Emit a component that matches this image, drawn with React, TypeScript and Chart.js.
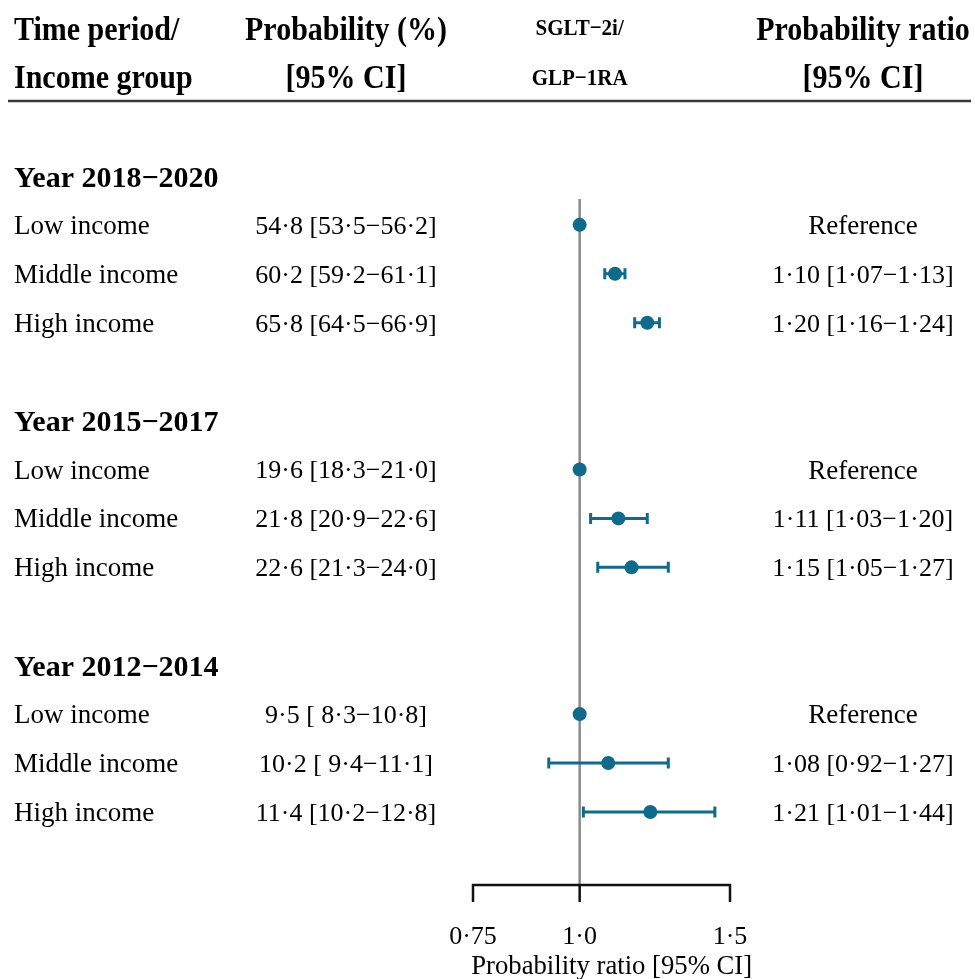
import React, { useEffect, useRef } from 'react';
import { Chart, registerables } from 'chart.js';

Chart.register(...registerables);

const headerCol1 = ['Time period/', 'Income group'];
const headerCol2 = ['Probability (%)', '[95% CI]'];
const headerCol3 = ['SGLT−2i/', 'GLP−1RA'];
const headerCol4 = ['Probability ratio', '[95% CI]'];

const periods = ['Year 2018−2020', 'Year 2015−2017', 'Year 2012−2014'];
const incomeGroups = ['Low income', 'Middle income', 'High income'];

const probEst = [54.8, 60.2, 65.8, 19.6, 21.8, 22.6, 9.5, 10.2, 11.4];
const probLow = [53.5, 59.2, 64.5, 18.3, 20.9, 21.3, 8.3, 9.4, 10.2];
const probHigh = [56.2, 61.1, 66.9, 21.0, 22.6, 24.0, 10.8, 11.1, 12.8];

const ratioEst = [1, 1.10, 1.20, 1, 1.11, 1.15, 1, 1.08, 1.21];
const ratioLow = [null, 1.07, 1.16, null, 1.03, 1.05, null, 0.92, 1.01];
const ratioHigh = [null, 1.13, 1.24, null, 1.20, 1.27, null, 1.27, 1.44];

const tickValues = [0.75, 1.0, 1.5];
const tickLabels = ['0·75', '1·0', '1·5'];
const axisTitle = 'Probability ratio [95% CI]';

const COLOR = '#0f6a8b';
const SERIF = '"Liberation Serif", "Times New Roman", serif';

const fmt = (v: number, d: number) => v.toFixed(d).replace('.', '·');
const padL = (s: string, n: number) => (s.length < n ? ' '.repeat(n - s.length) + s : s);

const rowIndex = (i: number) => Math.floor(i / 3) * 5 + 1 + (i % 3);
const groupIndex = (g: number) => g * 5;

const probText = probEst.map(
  (e, i) => `${fmt(e, 1)} [${padL(fmt(probLow[i], 1), 4)}−${fmt(probHigh[i], 1)}]`
);
const ratioText = ratioEst.map((e, i) =>
  ratioLow[i] == null ? 'Reference' : `${fmt(e, 2)} [${fmt(ratioLow[i] as number, 2)}−${fmt(ratioHigh[i] as number, 2)}]`
);

const stretched = (ctx: any, t: string, x: number, y: number, sy: number) => {
  ctx.save();
  ctx.translate(x, y);
  ctx.scale(1, sy);
  ctx.fillText(t, 0, 0);
  ctx.restore();
};

const forestPlugin = {
  id: 'forest',
  beforeDatasetsDraw(chart: any) {
    const ctx = chart.ctx;
    const xs = chart.scales.x;
    const ys = chart.scales.y;
    const area = chart.chartArea;
    ctx.save();
    const x1 = xs.getPixelForValue(1);
    ctx.strokeStyle = '#8a8a8a';
    ctx.lineWidth = 2.5;
    ctx.beginPath();
    ctx.moveTo(x1, ys.getPixelForValue(0.47));
    ctx.lineTo(x1, area.bottom);
    ctx.stroke();
    ctx.strokeStyle = COLOR;
    ctx.lineWidth = 3;
    ratioEst.forEach((e, i) => {
      const lo = ratioLow[i];
      const hi = ratioHigh[i];
      if (lo == null || hi == null) return;
      const y = ys.getPixelForValue(rowIndex(i));
      const xl = xs.getPixelForValue(lo);
      const xh = xs.getPixelForValue(hi);
      ctx.beginPath();
      ctx.moveTo(xl, y);
      ctx.lineTo(xh, y);
      ctx.moveTo(xl, y - 5.5);
      ctx.lineTo(xl, y + 5.5);
      ctx.moveTo(xh, y - 5.5);
      ctx.lineTo(xh, y + 5.5);
      ctx.stroke();
    });
    ctx.strokeStyle = '#111';
    ctx.lineWidth = 2.5;
    const xa = xs.getPixelForValue(tickValues[0]);
    const xb = xs.getPixelForValue(tickValues[tickValues.length - 1]);
    ctx.beginPath();
    ctx.moveTo(xa, area.bottom);
    ctx.lineTo(xb, area.bottom);
    tickValues.forEach((t) => {
      const x = xs.getPixelForValue(t);
      ctx.moveTo(x, area.bottom - 1.2);
      ctx.lineTo(x, area.bottom + 17);
    });
    ctx.stroke();
    ctx.restore();
  },
  afterDraw(chart: any) {
    const ctx = chart.ctx;
    const xs = chart.scales.x;
    const ys = chart.scales.y;
    const area = chart.chartArea;
    const W = chart.width;
    ctx.save();
    ctx.fillStyle = '#000';

    ctx.textBaseline = 'alphabetic';
    const hb = [40, 88];
    ctx.font = `bold 30px ${SERIF}`;
    ctx.textAlign = 'left';
    headerCol1.forEach((t, k) => stretched(ctx, t, 14, hb[k], 1.12));
    ctx.textAlign = 'center';
    headerCol2.forEach((t, k) => stretched(ctx, t, 346, hb[k], 1.12));
    headerCol4.forEach((t, k) => stretched(ctx, t, 863, hb[k], 1.12));
    ctx.font = `bold 21px ${SERIF}`;
    const sb = [35, 85];
    headerCol3.forEach((t, k) => stretched(ctx, t, xs.getPixelForValue(1), sb[k], 1.12));

    ctx.strokeStyle = '#3a3a3a';
    ctx.lineWidth = 2.5;
    ctx.beginPath();
    ctx.moveTo(8, 101);
    ctx.lineTo(W - 4, 101);
    ctx.stroke();

    ctx.textBaseline = 'middle';
    ctx.font = `bold 30px ${SERIF}`;
    ctx.textAlign = 'left';
    periods.forEach((p, g) => ctx.fillText(p, 14, ys.getPixelForValue(groupIndex(g)) + 3));

    probEst.forEach((_, i) => {
      const y = ys.getPixelForValue(rowIndex(i)) + 2;
      ctx.font = `27px ${SERIF}`;
      ctx.textAlign = 'left';
      ctx.fillText(incomeGroups[i % 3], 14, y);
      ctx.textAlign = 'center';
      ctx.font = `26px ${SERIF}`;
      ctx.fillText(probText[i], 346, y);
      if (ratioLow[i] == null) ctx.font = `27px ${SERIF}`;
      ctx.fillText(ratioText[i], 863, y);
    });

    ctx.font = `26px ${SERIF}`;
    ctx.textAlign = 'center';
    tickValues.forEach((t, k) => ctx.fillText(tickLabels[k], xs.getPixelForValue(t), area.bottom + 52));
    ctx.font = `26.7px ${SERIF}`;
    ctx.fillText(axisTitle, xs.getPixelForValue(1) + 32, area.bottom + 82);
    ctx.restore();
  },
};

export default function App() {
  const ref = useRef<HTMLCanvasElement | null>(null);
  useEffect(() => {
    if (!ref.current) return;
    const chart = new Chart(ref.current, {
      type: 'scatter',
      data: {
        datasets: [
          {
            data: ratioEst.map((e, i) => ({ x: e, y: rowIndex(i) })),
            backgroundColor: COLOR,
            borderColor: COLOR,
            borderWidth: 0,
            pointRadius: 7,
            pointHoverRadius: 7,
            clip: false as any,
          },
        ],
      },
      options: {
        responsive: false,
        animation: false,
        events: [],
        layout: { padding: { left: 473, right: 245, top: 127, bottom: 94 } },
        plugins: { legend: { display: false }, tooltip: { enabled: false } },
        scales: {
          x: { type: 'logarithmic', min: 0.75, max: 1.5, display: false },
          y: { type: 'linear', min: -1, max: 14.493, reverse: true, display: false },
        },
      },
      plugins: [forestPlugin],
    });
    return () => chart.destroy();
  }, []);
  return (
    <div style={{ position: 'absolute', left: 0, top: 0, width: 975, height: 979, background: '#fff' }}>
      <canvas ref={ref} width={975} height={979} style={{ width: 975, height: 979, display: 'block' }} />
    </div>
  );
}
